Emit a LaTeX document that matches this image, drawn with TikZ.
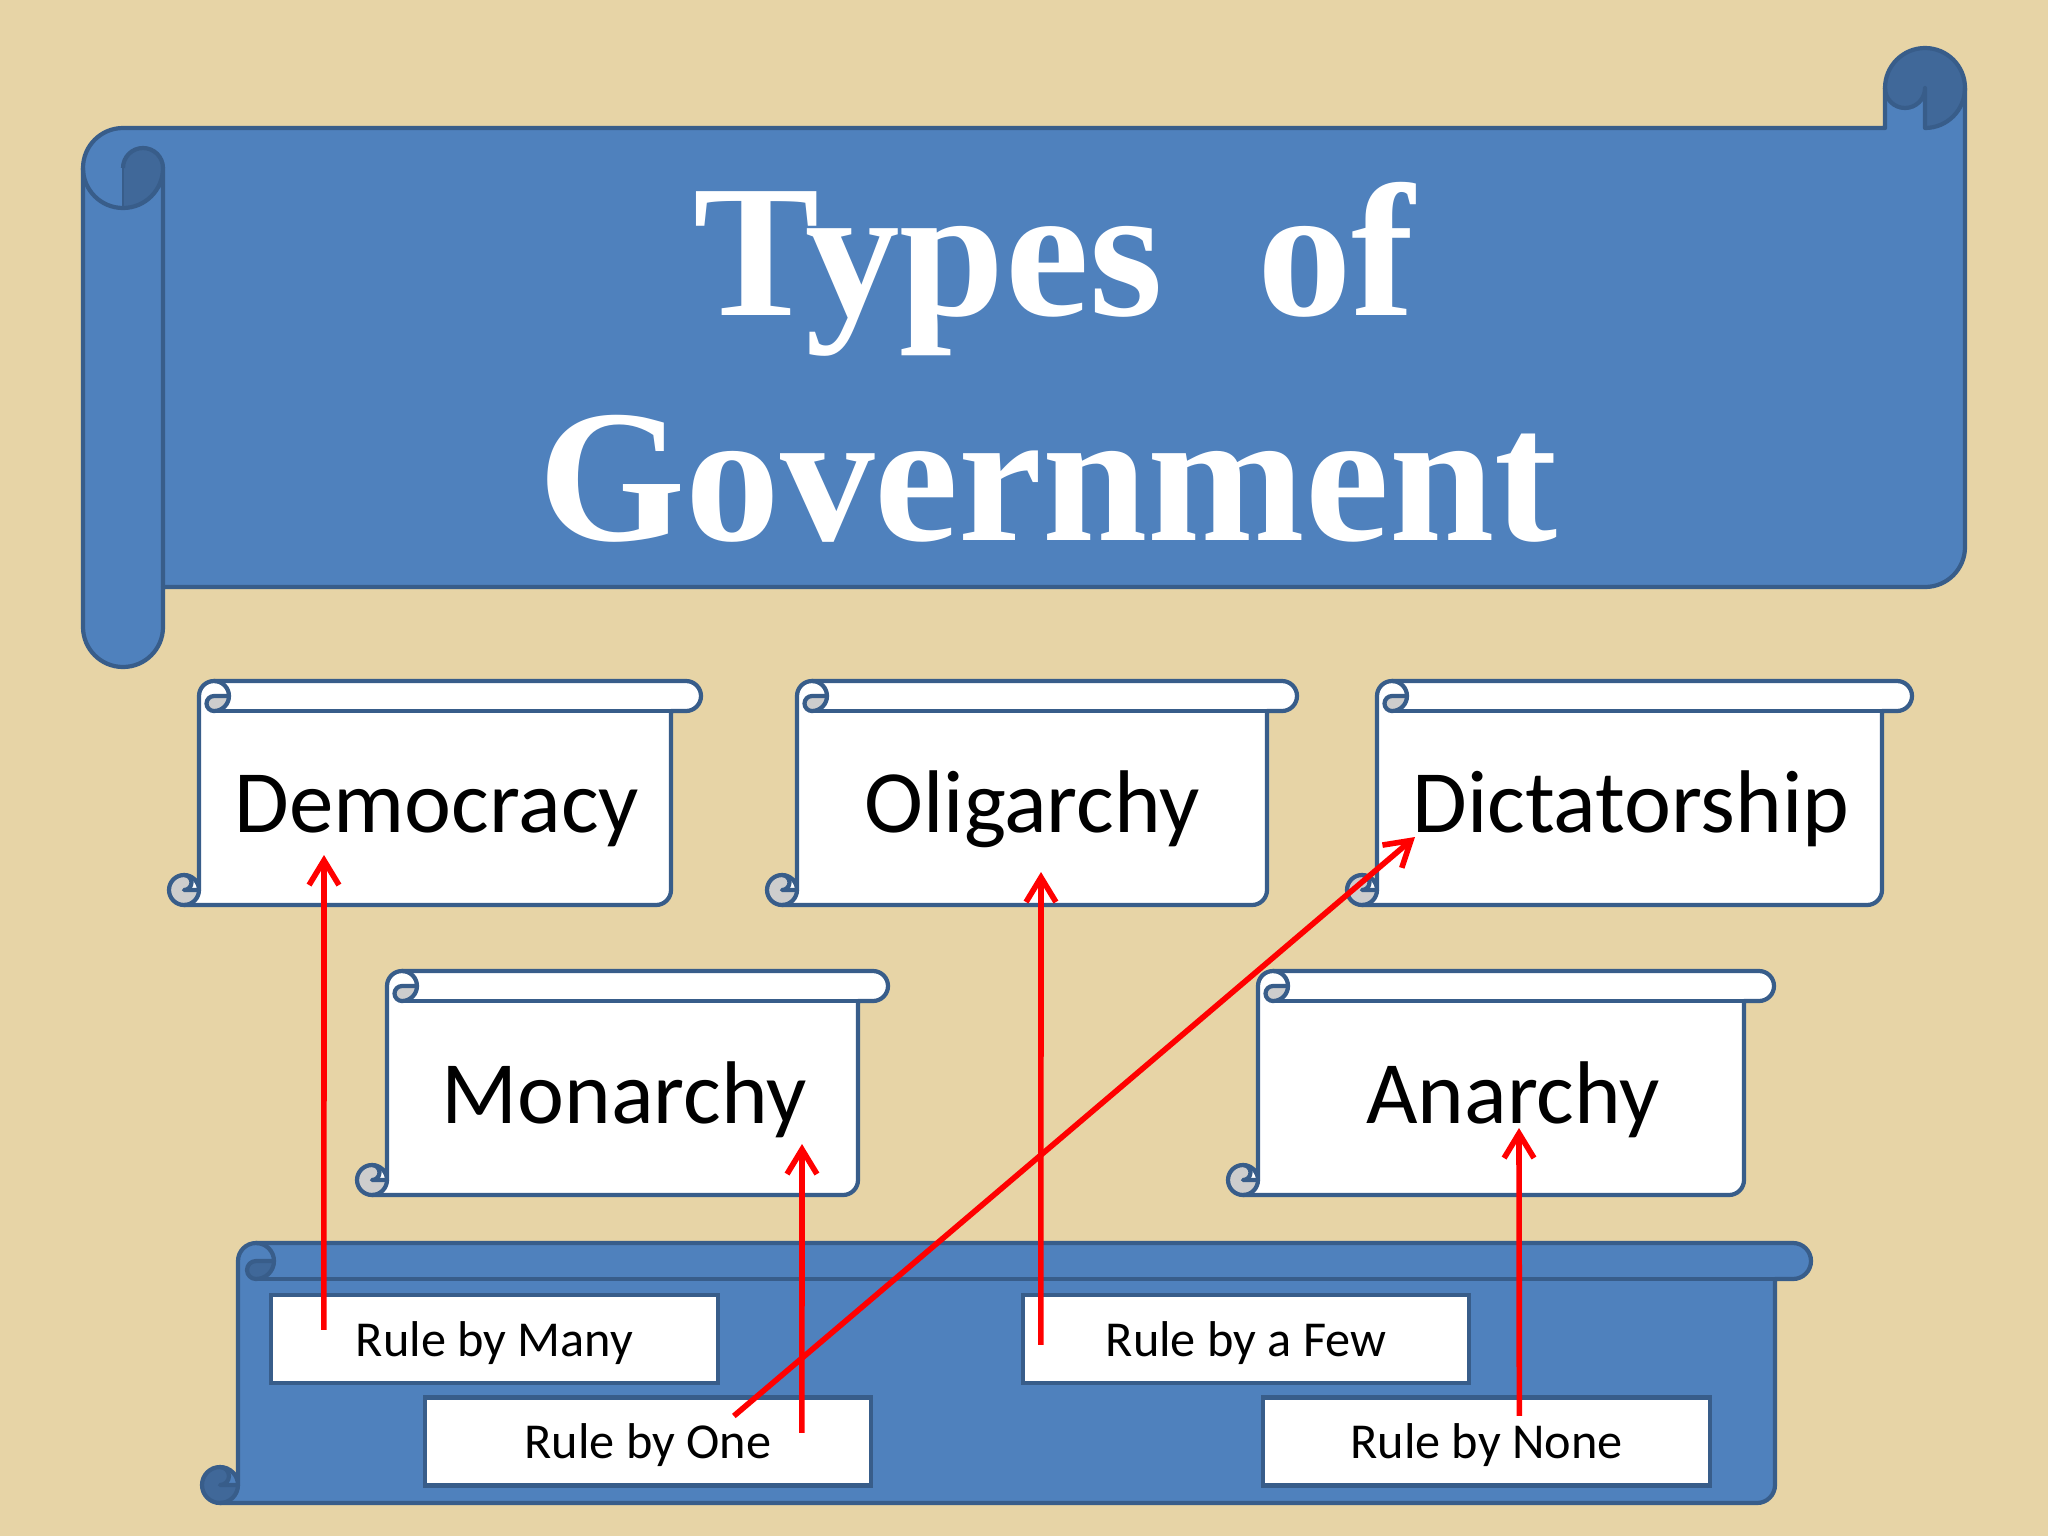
\documentclass[tikz,border=0pt]{standalone}
\usepackage{fontspec}
\setmainfont{Carlito}
\newfontfamily\titlefont{Liberation Serif}
\usepackage{tikz}
\usetikzlibrary{positioning,arrows.meta}
\usepackage{xcolor}

\definecolor{parchment}{RGB}{231,212,166}
\definecolor{scrollblue}{RGB}{79,129,189}
\definecolor{scrollline}{RGB}{56,93,138}
\definecolor{scrollshade}{RGB}{64,104,153}
\definecolor{papershade}{RGB}{205,205,205}
\definecolor{linkred}{RGB}{255,0,0}

\tikzset{scrolledge/.style={draw=scrollline, line width=1.2pt, line join=round}}

% corners of a scroll in px, y counted from the top
\newcommand{\scrollbox}[5]{%
  \pgfmathsetmacro\scL{#1}\pgfmathsetmacro\scT{-#2}%
  \pgfmathsetmacro\scR{#3}\pgfmathsetmacro\scB{-#4}%
  \pgfmathsetmacro\scC{#5}\pgfmathsetmacro\scH{#5/2}\pgfmathsetmacro\scQ{#5/4}}

% roll along the top, curl at the bottom left
\newcommand{\vscrollpath}{(\scL+\scC,\scT-\scH) arc[start angle=180,end angle=90,radius=\scH]
  -- (\scR-\scH,\scT) arc[start angle=90,end angle=-90,radius=\scH]
  -- (\scR-\scC,\scT-\scC) -- (\scR-\scC,\scB+\scH) arc[start angle=0,end angle=-90,radius=\scH]
  -- (\scL+\scH,\scB) arc[start angle=270,end angle=0,radius=\scH] -- cycle}
\newcommand{\vscroll}[7]{%
  \scrollbox{#1}{#2}{#3}{#4}{#5}%
  \fill[#6] \vscrollpath;
  \fill[#7] (\scL+\scC+\scC,\scT-\scH) arc[start angle=0,end angle=-90,radius=\scH]
    arc[start angle=-90,end angle=-270,radius=\scQ] -- cycle;
  \fill[#7] (\scL+\scC,\scB+\scH) arc[start angle=0,end angle=-270,radius=\scH]
    arc[start angle=90,end angle=-90,radius=\scQ] -- cycle;
  \draw[scrolledge] \vscrollpath;
  \draw[scrolledge] (\scL+\scC+\scH,\scT) arc[start angle=90,end angle=-90,radius=\scH]
    arc[start angle=-90,end angle=-270,radius=\scQ] -- ++(\scH,0);
  \draw[scrolledge] (\scR-\scC,\scT-\scC) -- (\scL+\scC+\scH,\scT-\scC);
  \draw[scrolledge] (\scL+\scH,\scB+\scC) arc[start angle=90,end angle=-90,radius=\scQ] -- ++(\scH,0);
  \draw[scrolledge] (\scL+\scH,\scB) arc[start angle=-90,end angle=0,radius=\scH];
}

% roll down the left side, curl at the top right
\newcommand{\hscrollpath}{(\scL+\scH,\scT-\scC) -- (\scR-\scC,\scT-\scC)
  -- (\scR-\scC,\scT-\scH) arc[start angle=180,end angle=0,radius=\scH]
  -- (\scR,\scB+\scC+\scH) arc[start angle=0,end angle=-90,radius=\scH]
  -- (\scL+\scC,\scB+\scC) -- (\scL+\scC,\scB+\scH) arc[start angle=0,end angle=-180,radius=\scH]
  -- (\scL,\scT-\scC-\scH) arc[start angle=180,end angle=90,radius=\scH] -- cycle}
\newcommand{\hscroll}[7]{%
  \scrollbox{#1}{#2}{#3}{#4}{#5}%
  \fill[#6] \hscrollpath;
  \fill[#7] (\scL+\scH,\scT-\scC-\scH) arc[start angle=180,end angle=0,radius=\scQ]
    arc[start angle=0,end angle=-90,radius=\scH] -- cycle;
  \fill[#7] (\scR-\scH,\scT-\scH) circle[radius=\scH];
  \fill[#6] (\scR-\scC,\scT-\scH) arc[start angle=180,end angle=360,radius=\scQ]
    -- (\scR-\scH,\scT-\scC) -- (\scR-\scC,\scT-\scC) -- cycle;
  \draw[scrolledge] \hscrollpath;
  \draw[scrolledge] (\scL,\scT-\scC-\scH) arc[start angle=180,end angle=360,radius=\scH] -- (\scL+\scC,\scB+\scC);
  \draw[scrolledge] (\scL+\scH,\scT-\scC-\scH) arc[start angle=180,end angle=0,radius=\scQ];
  \draw[scrolledge, line width=0.6pt] (\scL+\scH,\scT-\scC-\scH) -- ++(0,-\scH);
  \draw[scrolledge] (\scR-\scC,\scT-\scH) arc[start angle=180,end angle=360,radius=\scQ]
    -- (\scR-\scH,\scT-\scC) arc[start angle=-90,end angle=0,radius=\scH];
}

\begin{document}
\begin{tikzpicture}[x=0.01cm, y=0.01cm,
  typelabel/.style={font=\fontsize{25.3}{30}\selectfont, inner sep=0pt, anchor=base},
  rulebox/.style={draw=scrollline, line width=1.2pt, fill=white, minimum width=4.46cm, minimum height=0.88cm,
                  inner sep=0pt, outer sep=0pt, text height=10pt, text depth=0.3pt, font=\fontsize{14.3}{17}\selectfont},
  titleline/.style={text=white, inner sep=0pt, anchor=base, font={\titlefont\bfseries\fontsize{53.8}{64}\selectfont}},
  link/.style={draw=linkred, line width=1.6pt, -{Straight Barb[length=7pt,width=8.5pt]}}]

% Background
\useasboundingbox (0,0) rectangle (2048,-1536);
\fill[parchment] (0,0) rectangle (2048,-1536);

% Scrolls
\hscroll{83}{48}{1965}{667}{80}{scrollblue}{scrollshade}
\vscroll{169}{681}{701}{905}{30}{white}{papershade}
\vscroll{767}{681}{1297}{905}{30}{white}{papershade}
\vscroll{1347}{681}{1912}{905}{30}{white}{papershade}
\vscroll{357}{971}{888}{1195}{30}{white}{papershade}
\vscroll{1228}{971}{1774}{1195}{30}{white}{papershade}
\vscroll{202}{1243}{1811}{1503}{36}{scrollblue}{scrollshade}

% Nodes
\node (titletop) [titleline] at (1054,-315) {Types~~of};
\node (titlebottom) [titleline] at (1048,-540) {Government};

\node (democracy) [typelabel] at (437,-832) {Democracy};
\node (oligarchy) [typelabel] at (1032,-832) {Oligarchy};
\node (dictatorship) [typelabel] at (1631,-832) {Dictatorship};
\node (monarchy) [typelabel] at (624,-1123) {Monarchy};
\node (anarchy) [typelabel] at (1513,-1123) {Anarchy};

\node (many) [rulebox] at (494.5,-1339) {Rule by Many};
\node (one) [rulebox] at (648,-1441.5) {Rule by One};
\node (few) [rulebox, right=3.05cm of many] {Rule by a Few};
\node (none) [rulebox, right=3.92cm of one] {Rule by None};

% Arrows
\draw [link] ([shift={(52.5,-35)}]many.north west) -- ([shift={(-113,-23)}]democracy.base);
\draw [link] ([shift={(377,-35.5)}]one.north west) -- ([shift={(178,-21)}]monarchy.base);
\draw [link] ([shift={(309,-18.5)}]one.north west) -- ([shift={(-216,-5)}]dictatorship.base);
\draw [link] ([shift={(18,-50)}]few.north west) -- ([shift={(9,-40)}]oligarchy.base);
\draw [link] ([shift={(256,-18.5)}]none.north west) -- ([shift={(6,-5)}]anarchy.base);
\end{tikzpicture}
\end{document}
